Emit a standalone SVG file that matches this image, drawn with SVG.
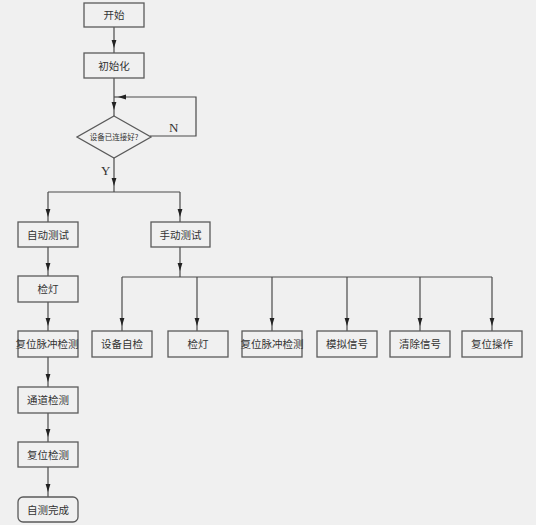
<svg xmlns="http://www.w3.org/2000/svg" width="536" height="525" viewBox="0 0 536 525">
<defs>
<style>
.bx{fill:#f0f0f0;stroke:#5a5a5a;stroke-width:1.3}
.t{font-family:"Noto Sans CJK SC","Noto Sans CJK JP",sans-serif;font-size:10.5px;fill:#333;text-anchor:middle}
.c{fill:none;stroke:#4a4a4a;stroke-width:1.2;marker-mid:url(#ah)}
.p{fill:none;stroke:#4a4a4a;stroke-width:1.2}
.lb{font-family:"Liberation Serif",serif;font-size:13px;fill:#333}
</style>
<marker id="ah" viewBox="0 0 10 10" refX="10" refY="5" markerWidth="8" markerHeight="8" markerUnits="userSpaceOnUse" orient="auto">
<path d="M0,2 L10,5 L0,8 Z" fill="#222"/>
</marker>
</defs>
<rect width="536" height="525" fill="#f0f0f0"/>
<g id="connectors">
<path class="c" d="M114,27 L114,48 L114,53"/>
<path class="c" d="M114,78 L114,110 L114,116"/>
<path class="p" d="M150,136 L196,136 L196,97 L125,97"/>
<path class="c" d="M125,97 L118,97 L114,97"/>
<path class="c" d="M114,158 L114,186 L114,192"/>
<path class="p" d="M48,192 L180,192"/>
<path class="c" d="M48,192 L48,217 L48,222"/>
<path class="c" d="M180,192 L180,217 L180,222"/>
<path class="c" d="M48,247 L48,271 L48,276"/>
<path class="c" d="M180,247 L180,271 L180,277"/>
<path class="p" d="M122,277 L492,277"/>
<path class="c" d="M122,277 L122,326 L122,331"/>
<path class="c" d="M197,277 L197,326 L197,331"/>
<path class="c" d="M272,277 L272,326 L272,331"/>
<path class="c" d="M347,277 L347,326 L347,331"/>
<path class="c" d="M420,277 L420,326 L420,331"/>
<path class="c" d="M492,277 L492,326 L492,331"/>
<path class="c" d="M48,302 L48,326 L48,331"/>
<path class="c" d="M48,357 L48,382 L48,387"/>
<path class="c" d="M48,413 L48,437 L48,442"/>
<path class="c" d="M48,467 L48,492 L48,497"/>
</g>
<text class="lb" x="169" y="132">N</text>
<text class="lb" x="101" y="175">Y</text>
<g id="start"><rect class="bx" x="84" y="3" width="60" height="24"/><text class="t" x="114" y="19">开始</text></g>
<g id="init"><rect class="bx" x="84" y="53" width="60" height="25"/><text class="t" x="114" y="69.5">初始化</text></g>
<g id="check"><polygon class="bx" points="114,116 151,137 114,158 77,137"/><text class="t" x="114" y="139.5" style="font-size:7.5px">设备已连接好?</text></g>
<g id="auto"><rect class="bx" x="18" y="222" width="60" height="25"/><text class="t" x="48" y="238.5">自动测试</text></g>
<g id="manual"><rect class="bx" x="151" y="222" width="59" height="25"/><text class="t" x="180.5" y="238.5">手动测试</text></g>
<g id="lamp1"><rect class="bx" x="18" y="276" width="60" height="26"/><text class="t" x="48" y="293">检灯</text></g>
<g id="reset-pulse1"><rect class="bx" x="18" y="331" width="60" height="26"/><text class="t" x="47" y="348">复位脉冲检测</text></g>
<g id="channel"><rect class="bx" x="18" y="387" width="60" height="26"/><text class="t" x="48" y="404">通道检测</text></g>
<g id="reset-check"><rect class="bx" x="18" y="442" width="60" height="25"/><text class="t" x="48" y="458.5">复位检测</text></g>
<g id="done"><rect class="bx" x="18" y="497" width="60" height="25" rx="5"/><text class="t" x="48" y="513.5">自测完成</text></g>
<g id="selfcheck"><rect class="bx" x="92" y="331" width="60" height="26"/><text class="t" x="122" y="348">设备自检</text></g>
<g id="lamp2"><rect class="bx" x="168" y="331" width="60" height="26"/><text class="t" x="198" y="348">检灯</text></g>
<g id="reset-pulse2"><rect class="bx" x="242" y="331" width="60" height="26"/><text class="t" x="272" y="348">复位脉冲检测</text></g>
<g id="sim"><rect class="bx" x="317" y="331" width="60" height="26"/><text class="t" x="347" y="348">模拟信号</text></g>
<g id="clear"><rect class="bx" x="390" y="331" width="60" height="26"/><text class="t" x="420" y="348">清除信号</text></g>
<g id="reset-op"><rect class="bx" x="462" y="331" width="60" height="26"/><text class="t" x="492" y="348">复位操作</text></g>
</svg>
